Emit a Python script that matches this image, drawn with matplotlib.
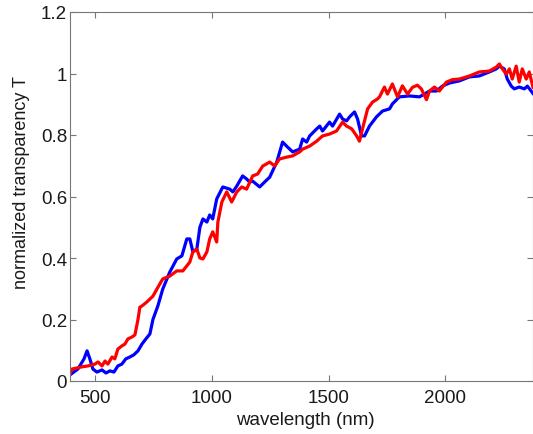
import numpy as np
import matplotlib.pyplot as plt
from matplotlib.ticker import FuncFormatter

# wavelength (nm) / normalized transparency
blue_wl = [393, 427, 453, 466, 478, 491, 508, 530, 547, 564, 581, 598, 615, 632,
           649, 666, 684, 701, 718, 735, 748, 769, 790, 820, 850, 872, 893, 906,
           919, 936, 949, 962, 979, 991, 1004, 1021, 1047, 1077, 1090, 1107, 1132,
           1149, 1162, 1175, 1205, 1226, 1248, 1278, 1303, 1320, 1346, 1376, 1389,
           1406, 1419, 1449, 1462, 1474, 1504, 1517, 1547, 1560, 1577, 1590, 1611,
           1624, 1641, 1654, 1675, 1705, 1731, 1761, 1773, 1803, 1846, 1889, 1932,
           1962, 1987, 2017, 2060, 2103, 2145, 2188, 2218, 2231, 2252, 2265, 2282,
           2295, 2316, 2338, 2351, 2375]
blue_T = [0.02, 0.039, 0.072, 0.098, 0.072, 0.039, 0.029, 0.036, 0.026, 0.033,
          0.029, 0.049, 0.055, 0.072, 0.078, 0.085, 0.098, 0.12, 0.137, 0.153,
          0.2, 0.244, 0.299, 0.354, 0.397, 0.407, 0.462, 0.462, 0.42, 0.429, 0.5,
          0.527, 0.517, 0.54, 0.527, 0.592, 0.631, 0.624, 0.615, 0.634, 0.667,
          0.657, 0.647, 0.65, 0.631, 0.647, 0.663, 0.712, 0.777, 0.764, 0.745,
          0.754, 0.787, 0.777, 0.797, 0.82, 0.829, 0.813, 0.842, 0.829, 0.868,
          0.852, 0.846, 0.859, 0.875, 0.852, 0.797, 0.797, 0.829, 0.859, 0.878,
          0.885, 0.901, 0.924, 0.927, 0.924, 0.943, 0.943, 0.959, 0.969, 0.976,
          0.989, 0.992, 1.005, 1.015, 1.024, 1.015, 0.982, 0.959, 0.95, 0.956,
          0.95, 0.959, 0.935]

red_wl = [393, 402, 444, 470, 500, 513, 530, 543, 555, 573, 585, 598, 615, 628,
          641, 658, 671, 684, 692, 701, 722, 748, 765, 790, 820, 850, 876, 906,
          919, 936, 949, 962, 979, 991, 1004, 1021, 1026, 1043, 1064, 1085, 1107,
          1128, 1149, 1175, 1196, 1218, 1248, 1269, 1290, 1320, 1346, 1376, 1389,
          1419, 1449, 1474, 1504, 1534, 1560, 1577, 1599, 1620, 1632, 1645, 1667,
          1688, 1709, 1718, 1739, 1752, 1773, 1795, 1816, 1838, 1859, 1880, 1897,
          1919, 1932, 1953, 1974, 2004, 2030, 2060, 2103, 2145, 2188, 2218, 2231,
          2244, 2261, 2274, 2286, 2303, 2316, 2329, 2346, 2359, 2375]
red_T = [0.023, 0.039, 0.046, 0.049, 0.055, 0.062, 0.049, 0.065, 0.055, 0.078,
         0.072, 0.104, 0.114, 0.12, 0.137, 0.143, 0.15, 0.2, 0.24, 0.244, 0.257,
         0.276, 0.299, 0.332, 0.341, 0.358, 0.358, 0.387, 0.42, 0.429, 0.4, 0.397,
         0.42, 0.462, 0.485, 0.452, 0.517, 0.582, 0.615, 0.582, 0.615, 0.631,
         0.624, 0.667, 0.673, 0.699, 0.712, 0.699, 0.722, 0.728, 0.732, 0.745,
         0.754, 0.764, 0.78, 0.797, 0.803, 0.813, 0.842, 0.829, 0.82, 0.797,
         0.78, 0.82, 0.885, 0.907, 0.917, 0.924, 0.956, 0.933, 0.966, 0.924,
         0.96, 0.933, 0.955, 0.962, 0.95, 0.915, 0.943, 0.956, 0.943, 0.972,
         0.98, 0.982, 0.992, 1.005, 1.008, 1.021, 1.031, 1.015, 0.998, 1.015,
         0.982, 1.024, 0.972, 1.015, 0.982, 1.005, 0.955]

plt.rcParams['font.family'] = ['Liberation Sans', 'DejaVu Sans']

W, H = 533, 435
fig = plt.figure(figsize=(W / 100, H / 100), dpi=100)
ax = fig.add_axes([70 / W, 1 - 382 / H, 463 / W, 369 / H])

ax.plot(blue_wl, blue_T, c="#0000ff", lw=2.3)
ax.plot(red_wl, red_T, c="#ff0000", lw=2.3)

ax.set_xlim(393, 2375)
ax.set_ylim(0, 1.2)
ax.set_xticks([500, 1000, 1500, 2000])
ax.set_yticks(np.arange(0, 1.21, 0.2))
ax.yaxis.set_major_formatter(FuncFormatter(lambda v, p: "%g" % round(v, 1)))
ax.tick_params(direction="in", length=4, labelsize=13.5, colors="#1a1a1a",
               top=True, right=True)
ax.tick_params(axis="x", pad=5.5)
ax.tick_params(axis="y", pad=2)
ax.tick_params(color="#777777")
for s in ax.spines.values():
    s.set_color("#777777")
    s.set_linewidth(0.8)

fig.text(305 / W, 1 - 421 / H, "wavelength (nm)", fontsize=13.5,
         ha="center", va="center", color="#1a1a1a")
fig.text(22 / W, 1 - 183 / H, "normalized transparency T", fontsize=13,
         ha="center", va="center", rotation=90, color="#1a1a1a")

fig.savefig("out.png", dpi=100)
